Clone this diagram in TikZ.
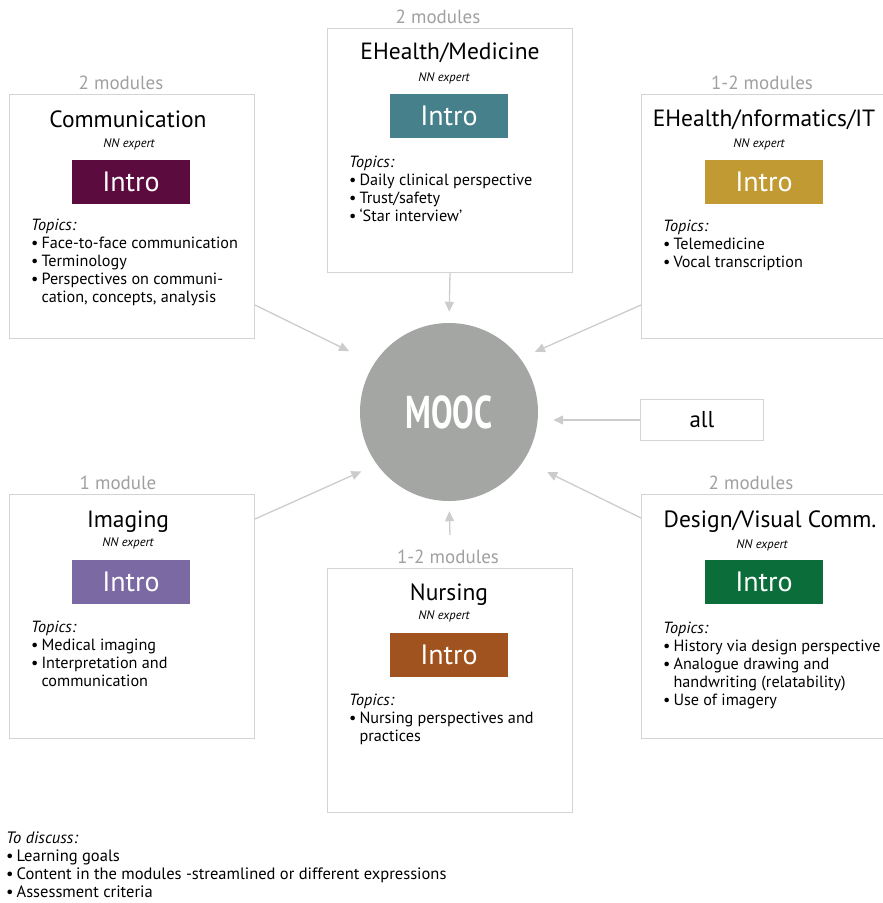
\documentclass[tikz,border=0pt]{standalone}
\usepackage{fontspec}
\setmainfont{PT Sans}
\usepackage{graphicx}
\usetikzlibrary{arrows.meta}
\definecolor{boxgray}{HTML}{D4D4D4}
\definecolor{modgray}{HTML}{A0A0A0}
\definecolor{arrgray}{HTML}{CCCCCC}
\definecolor{mooccol}{HTML}{A3A6A3}
\definecolor{commcol}{HTML}{5C0B3E}
\definecolor{medcol}{HTML}{46808A}
\definecolor{infocol}{HTML}{C29A34}
\definecolor{imagcol}{HTML}{7A69A3}
\definecolor{nurscol}{HTML}{A0531E}
\definecolor{designcol}{HTML}{0B6E3A}
\begin{document}
\begin{tikzpicture}[x=1pt,y=-1pt,
    box/.style={draw=boxgray,line width=1pt,minimum width=245pt,minimum height=244pt,inner sep=0pt,anchor=north west},
    mods/.style={text=modgray,font=\fontsize{19}{21}\selectfont},
    title/.style={font=\fontsize{23.5}{26}\selectfont},
    expert/.style={font=\fontsize{12.5}{14}\selectfont\itshape},
    intro/.style={minimum width=118pt,minimum height=44pt,inner sep=0pt,text=white,font=\fontsize{28}{30}\selectfont},
    topics/.style={anchor=north west,align=left,inner sep=0pt,font=\fontsize{16.2}{18}\selectfont},
    arr/.style={draw=arrgray,line width=1.3pt,-{Triangle[length=10pt,width=9pt]}}]
    \useasboundingbox (0,0) rectangle (883,903);
    \clip (0,0) rectangle (883,903);

    % centre
    \node[circle,fill=mooccol,minimum size=178pt,inner sep=0pt,text=white,font=\fontsize{46}{50}\selectfont\bfseries] (mooc) at (449,412) {\scalebox{0.7}[1]{MOOC}};
    \node[draw=boxgray,line width=1pt,minimum width=123pt,minimum height=41pt,inner sep=0pt,font=\fontsize{23}{25}\selectfont] (all) at (702,420) {all};

    % Communication
    \node[box] (comm) at (9,94) {};
    \node[mods] (commmods) at (121,83) {2 modules};
    \node[title] (commtitle) at (128,119) {Communication};
    \node[expert] (commexp) at (129,144) {NN expert};
    \node[intro,fill=commcol] (commintro) at (131,182) {Intro};
    \node[topics] (commtop) at (31,219) {\textit{Topics:}\\
        \textbullet\hspace{3pt}Face-to-face communication\\
        \textbullet\hspace{3pt}Terminology\\
        \textbullet\hspace{3pt}Perspectives on communi-\\
        \phantom{\textbullet}\hspace{3pt}cation, concepts, analysis};

    % EHealth/Medicine
    \node[box] (med) at (327,28) {};
    \node[mods] (medmods) at (438,17) {2 modules};
    \node[title] (medtitle) at (450,53) {EHealth/Medicine};
    \node[expert] (medexp) at (444,78) {NN expert};
    \node[intro,fill=medcol] (medintro) at (449,116) {Intro};
    \node[topics] (medtop) at (349,156) {\textit{Topics:}\\
        \textbullet\hspace{3pt}Daily clinical perspective\\
        \textbullet\hspace{3pt}Trust/safety\\
        \textbullet\hspace{3pt}‘Star interview’};

    % EHealth/Informatics/IT
    \node[box] (info) at (641,94) {};
    \node[mods] (infomods) at (762,83) {1-2 modules};
    \node[title] (infotitle) at (764,120) {EHealth/nformatics/IT};
    \node[expert] (infoexp) at (759,144) {NN expert};
    \node[intro,fill=infocol] (infointro) at (764,182) {Intro};
    \node[topics] (infotop) at (663,220) {\textit{Topics:}\\
        \textbullet\hspace{3pt}Telemedicine\\
        \textbullet\hspace{3pt}Vocal transcription};

    % Imaging
    \node[box] (imag) at (9,494) {};
    \node[mods] (imagmods) at (118,483) {1 module};
    \node[title] (imagtitle) at (128,522) {Imaging};
    \node[expert] (imagexp) at (128,543) {NN expert};
    \node[intro,fill=imagcol] (imagintro) at (131,582) {Intro};
    \node[topics] (imagtop) at (31,621) {\textit{Topics:}\\
        \textbullet\hspace{3pt}Medical imaging\\
        \textbullet\hspace{3pt}Interpretation and\\
        \phantom{\textbullet}\hspace{3pt}communication};

    % Nursing
    \node[box] (nurs) at (327,568) {};
    \node[mods] (nursmods) at (448,557) {1-2 modules};
    \node[title] (nurstitle) at (449,595) {Nursing};
    \node[expert] (nursexp) at (444,616) {NN expert};
    \node[intro,fill=nurscol] (nursintro) at (449,655) {Intro};
    \node[topics] (nurstop) at (349,694) {\textit{Topics:}\\
        \textbullet\hspace{3pt}Nursing perspectives and\\
        \phantom{\textbullet}\hspace{3pt}practices};

    % Design/Visual Comm.
    \node[box] (design) at (641,494) {};
    \node[mods] (designmods) at (751,483) {2 modules};
    \node[title] (designtitle) at (770,522) {Design/Visual Comm.};
    \node[expert] (designexp) at (762,545) {NN expert};
    \node[intro,fill=designcol] (designintro) at (764,582) {Intro};
    \node[topics] (designtop) at (663,622) {\textit{Topics:}\\
        \textbullet\hspace{3pt}History via design perspective\\
        \textbullet\hspace{3pt}Analogue drawing and\\
        \phantom{\textbullet}\hspace{3pt}handwriting (relatability)\\
        \textbullet\hspace{3pt}Use of imagery};

    % arrows into the MOOC
    \draw[arr,shorten >=28pt] ([yshift=34pt]comm.south east) -- (mooc.147);
    \draw[arr,shorten >=11pt] (med.south) -- (mooc.north);
    \draw[arr,shorten >=16pt] ([yshift=34pt]info.south west) -- (mooc.37);
    \draw[arr,shorten >=15pt] (all.west) -- (all.west -| mooc.east);
    \draw[arr,shorten >=17pt] ([yshift=-25pt]imag.north east) -- (mooc.216);
    \draw[arr,shorten >=10pt] ([yshift=33pt]nurs.north) -- (mooc.south);
    \draw[arr,shorten >=26pt] ([yshift=-24pt]design.north west) -- (mooc.-33);

    \node[topics,font=\fontsize{16.5}{17.8}\selectfont] (discuss) at (6,832) {\textit{To discuss:}\\
        \textbullet\hspace{3pt}Learning goals\\
        \textbullet\hspace{3pt}Content in the modules -streamlined or different expressions\\
        \textbullet\hspace{3pt}Assessment criteria};
\end{tikzpicture}
\end{document}
